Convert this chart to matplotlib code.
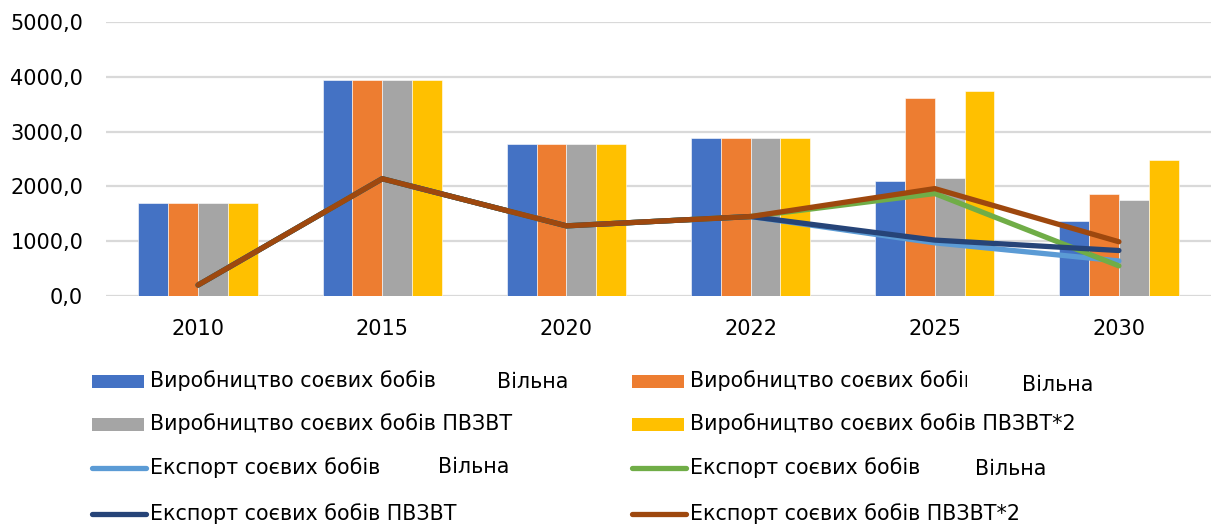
import matplotlib
matplotlib.use("Agg")
import matplotlib.pyplot as plt
import numpy as np
from matplotlib.patches import Rectangle
from matplotlib.lines import Line2D
from matplotlib.transforms import Bbox, TransformedBbox

years = ["2010", "2015", "2020", "2022", "2025", "2030"]

prod_free = [1690, 3940, 2770, 2880, 2090, 1360]
prod_free2 = [1690, 3940, 2770, 2880, 3610, 1870]
prod_fta = [1690, 3940, 2770, 2880, 2160, 1750]
prod_fta2 = [1690, 3940, 2770, 2880, 3740, 2480]

exp_free = [200, 2140, 1280, 1450, 970, 640]
exp_free2 = [200, 2140, 1280, 1450, 1870, 550]
exp_fta = [200, 2140, 1280, 1450, 1020, 830]
exp_fta2 = [200, 2140, 1280, 1450, 1960, 990]

bar_series = [prod_free, prod_free2, prod_fta, prod_fta2]
bar_colors = ["#4472C4", "#ED7D31", "#A5A5A5", "#FFC000"]
line_series = [exp_free, exp_free2, exp_fta, exp_fta2]
line_colors = ["#5B9BD5", "#70AD47", "#264478", "#9E480E"]

W, H = 1211, 528
fig = plt.figure(figsize=(W / 100, H / 100), dpi=100)
ax = fig.add_axes([106 / W, 1 - 296 / H, 1 - 106 / W, (296 - 22) / H])

x = np.arange(len(years))
bw = 0.162
for i, (vals, col) in enumerate(zip(bar_series, bar_colors)):
    ax.bar(x + (i - 1.5) * bw, vals, bw, color=col, edgecolor="white",
           linewidth=0.4, zorder=2)

for vals, col in zip(line_series, line_colors):
    ax.plot(x, vals, color=col, lw=3.8, solid_capstyle="round",
            solid_joinstyle="round", zorder=3)

ax.set_xlim(-0.5, len(years) - 0.5)
ax.set_ylim(0, 5000)
ax.set_yticks(np.arange(0, 5001, 1000))
ax.set_yticklabels([f"{v:.1f}".replace(".", ",") for v in np.arange(0, 5001, 1000)])
ax.set_xticks(x)
ax.set_xticklabels(years)
ax.tick_params(axis="both", length=0, labelsize=15, colors="#000000")
ax.tick_params(axis="y", pad=16.5)
ax.tick_params(axis="x", pad=16.5)
for s in ax.spines.values():
    s.set_visible(False)
ax.yaxis.grid(True, color="#d9d9d9", lw=1.6, zorder=0)
ax.set_axisbelow(True)

# legend drawn by hand, two columns of four rows
def px(xp, yp):
    return xp / W, 1 - yp / H

legend_rows = [381, 424, 468, 514]
col_x = [92, 632]
entries = [
    ("bar", bar_colors[0], "Виробництво соєвих бобів"),
    ("bar", bar_colors[1], "Виробництво соєвих бобів"),
    ("bar", bar_colors[2], "Виробництво соєвих бобів ПВЗВТ"),
    ("bar", bar_colors[3], "Виробництво соєвих бобів ПВЗВТ*2"),
    ("line", line_colors[0], "Експорт соєвих бобів"),
    ("line", line_colors[1], "Експорт соєвих бобів"),
    ("line", line_colors[2], "Експорт соєвих бобів ПВЗВТ"),
    ("line", line_colors[3], "Експорт соєвих бобів ПВЗВТ*2"),
]
fs = 14.9
for k, (kind, col, label) in enumerate(entries):
    r, c = divmod(k, 2)
    yp = legend_rows[r]
    x0 = col_x[c]
    if kind == "bar":
        fig.patches.append(Rectangle(px(x0, yp + 7), 52 / W, 13 / H,
                                     transform=fig.transFigure,
                                     facecolor=col, edgecolor="none"))
    else:
        fig.lines.append(Line2D([x0 / W, (x0 + 54) / W], [1 - yp / H] * 2,
                                transform=fig.transFigure, color=col, lw=3.8,
                                solid_capstyle="round"))
    t = fig.text(*px(x0 + 58, yp), label, fontsize=fs, va="center",
                 ha="left", color="#000000")
    if k == 1:
        clip = TransformedBbox(Bbox.from_extents(0, 0, 967 / W, 1), fig.transFigure)
        t.set_clip_box(clip)
        t.set_clip_on(True)

for xp, yp in [(497, 382), (1022, 385), (438, 467), (975, 469)]:
    fig.text(*px(xp, yp), "Вільна", fontsize=fs, va="center", ha="left",
             color="#000000")

fig.savefig("out.png", dpi=100)
